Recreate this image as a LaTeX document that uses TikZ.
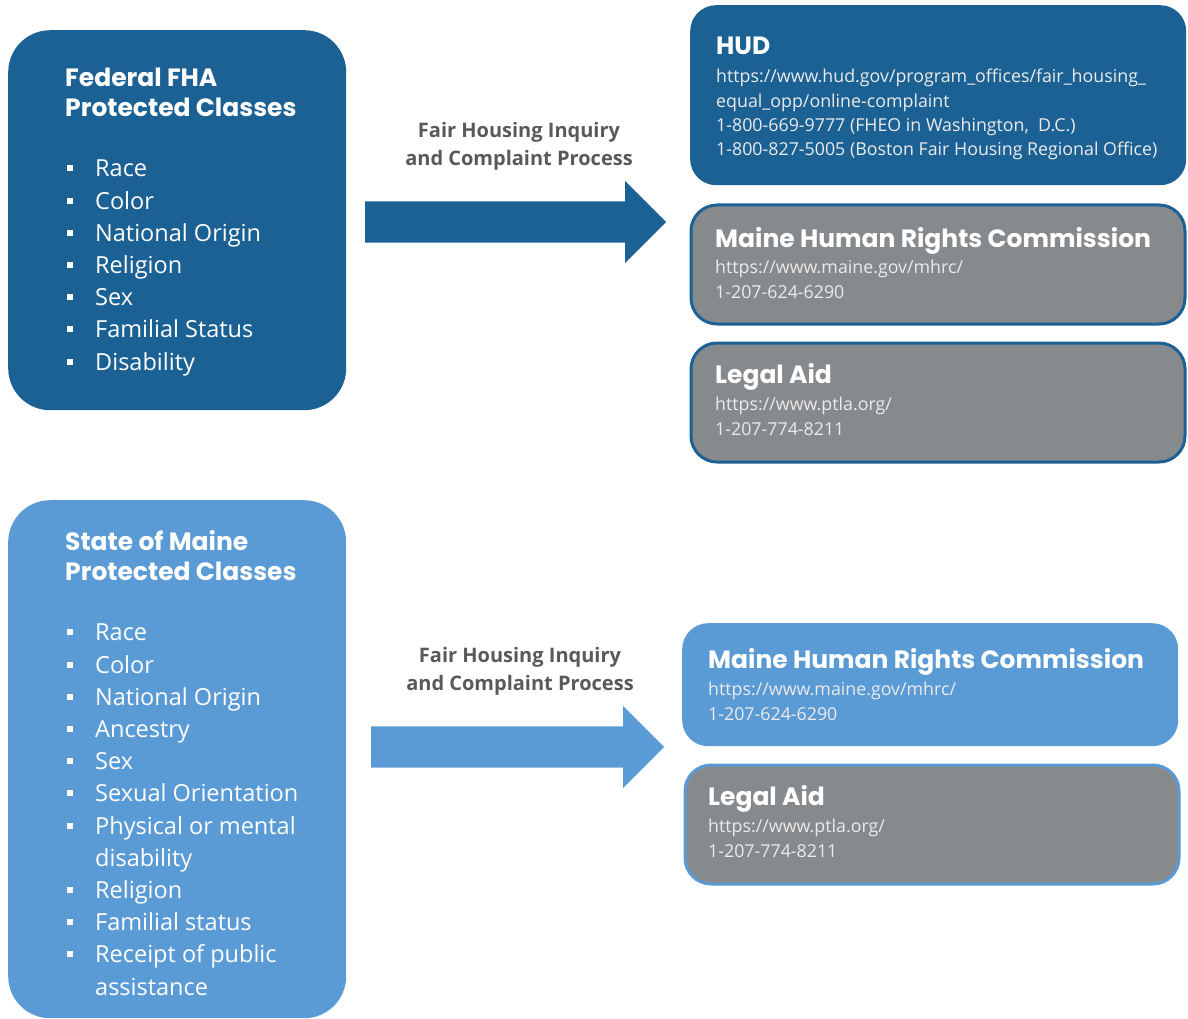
\documentclass[tikz,border=0pt]{standalone}
\usepackage{fontspec}
\setmainfont{Open Sans}
\newfontfamily\headfont{Poppins}
\usetikzlibrary{shapes.arrows}

\definecolor{fedblue}{RGB}{27,97,148}
\definecolor{maineblue}{RGB}{91,155,213}
\definecolor{boxgray}{RGB}{135,138,141}
\definecolor{labelgray}{RGB}{89,89,89}

% square bullet and hanging indent for the class lists
\newcommand{\sqbullet}{\makebox[28pt][l]{\rule[5.5pt]{6pt}{6pt}}}
\newcommand{\wrapline}{\hspace*{28pt}}

\begin{document}
\begin{tikzpicture}[
    x=1pt, y=-1pt,
    classbox/.style={rectangle, rounded corners=42pt, minimum width=338pt, inner sep=0},
    agency/.style={rectangle, rounded corners=26pt, minimum width=496pt, minimum height=121pt, inner sep=0},
    framed/.style={line width=3pt, minimum width=494pt, minimum height=119pt},
    boxtitle/.style={anchor=base west, inner sep=0, text=white, align=left, font=\headfont\bfseries\fontsize{25}{30}\selectfont},
    classlist/.style={anchor=base west, inner sep=0, text=white, align=left, font=\fontsize{23.5}{32.2}\selectfont},
    agencyname/.style={anchor=base west, inner sep=0, text=white, font=\headfont\bfseries\fontsize{25}{30}\selectfont},
    contact/.style={anchor=base west, inner sep=0, text=white!92!black, align=left, font=\fontsize{17.8}{24.4}\selectfont},
    process/.style={anchor=base, inner sep=0, text=labelgray, align=center, font=\bfseries\fontsize{20}{28}\selectfont},
    flow/.style={single arrow, single arrow head extend=20.5pt, inner xsep=0, inner ysep=20.5pt, anchor=tail}
]
    % page frame
    \useasboundingbox (0,0) rectangle (1188,1019);

    % multi-line nodes sit on the baseline of their last line

    % Federal classes
    \node[classbox, fill=fedblue, minimum height=380pt, anchor=north west] (fed) at (8,30) {};
    \node[boxtitle] (fedtitle) at (65,117) {Federal FHA\\Protected Classes};
    \node[classlist] (fedlist) at (67,370) {\sqbullet Race\\ \sqbullet Color\\ \sqbullet National Origin\\
        \sqbullet Religion\\ \sqbullet Sex\\ \sqbullet Familial Status\\ \sqbullet Disability};

    % State classes
    \node[classbox, fill=maineblue, minimum height=518pt, anchor=north west] (state) at (8,500) {};
    \node[boxtitle] (statetitle) at (65,580) {State of Maine\\Protected Classes};
    \node[classlist] (statelist) at (67,995) {\sqbullet Race\\ \sqbullet Color\\ \sqbullet National Origin\\
        \sqbullet Ancestry\\ \sqbullet Sex\\ \sqbullet Sexual Orientation\\ \sqbullet Physical or mental\\
        \wrapline disability\\ \sqbullet Religion\\ \sqbullet Familial status\\ \sqbullet Receipt of public\\
        \wrapline assistance};

    % process arrows
    \node[process] (fedproc) at (519,166) {Fair Housing Inquiry\\and Complaint Process};
    \node[flow, fill=fedblue, minimum height=301pt] (fedflow) at (365,222) {};
    \node[process] (stateproc) at (520,690) {Fair Housing Inquiry\\and Complaint Process};
    \node[flow, fill=maineblue, minimum height=293pt] (stateflow) at (371,747) {};

    % federal agencies
    \node[agency, fill=fedblue, minimum height=180pt, anchor=north west] (hud) at (690,5) {};
    \node[agencyname] (hudname) at (716,55) {HUD};
    \node[contact] (hudinfo) at (716,156) {https://www.hud.gov/program\_offices/fair\_housing\_\\
        equal\_opp/online-complaint\\ 1-800-669-9777 (FHEO in Washington,~ D.C.)\\
        1-800-827-5005 (Boston Fair Housing Regional Office)};

    \node[agency, framed, fill=boxgray, draw=fedblue, anchor=north west] (mhrc) at (689.5,203.5) {};
    \node[agencyname] (mhrcname) at (715,247) {Maine Human Rights Commission};
    \node[contact] (mhrcinfo) at (715,298) {https://www.maine.gov/mhrc/\\1-207-624-6290};

    \node[agency, framed, fill=boxgray, draw=fedblue, anchor=north west] (aid) at (689.5,341.5) {};
    \node[agencyname] (aidname) at (715,383) {Legal Aid};
    \node[contact] (aidinfo) at (715,435) {https://www.ptla.org/\\1-207-774-8211};

    % state agencies
    \node[agency, fill=maineblue, minimum height=123pt, anchor=north west] (smhrc) at (682,623) {};
    \node[agencyname] (smhrcname) at (708,668) {Maine Human Rights Commission};
    \node[contact] (smhrcinfo) at (708,720) {https://www.maine.gov/mhrc/\\1-207-624-6290};

    \node[agency, framed, fill=boxgray, draw=maineblue, anchor=north west] (said) at (683.5,763.5) {};
    \node[agencyname] (saidname) at (708,805) {Legal Aid};
    \node[contact] (saidinfo) at (708,857) {https://www.ptla.org/\\1-207-774-8211};
\end{tikzpicture}
\end{document}
